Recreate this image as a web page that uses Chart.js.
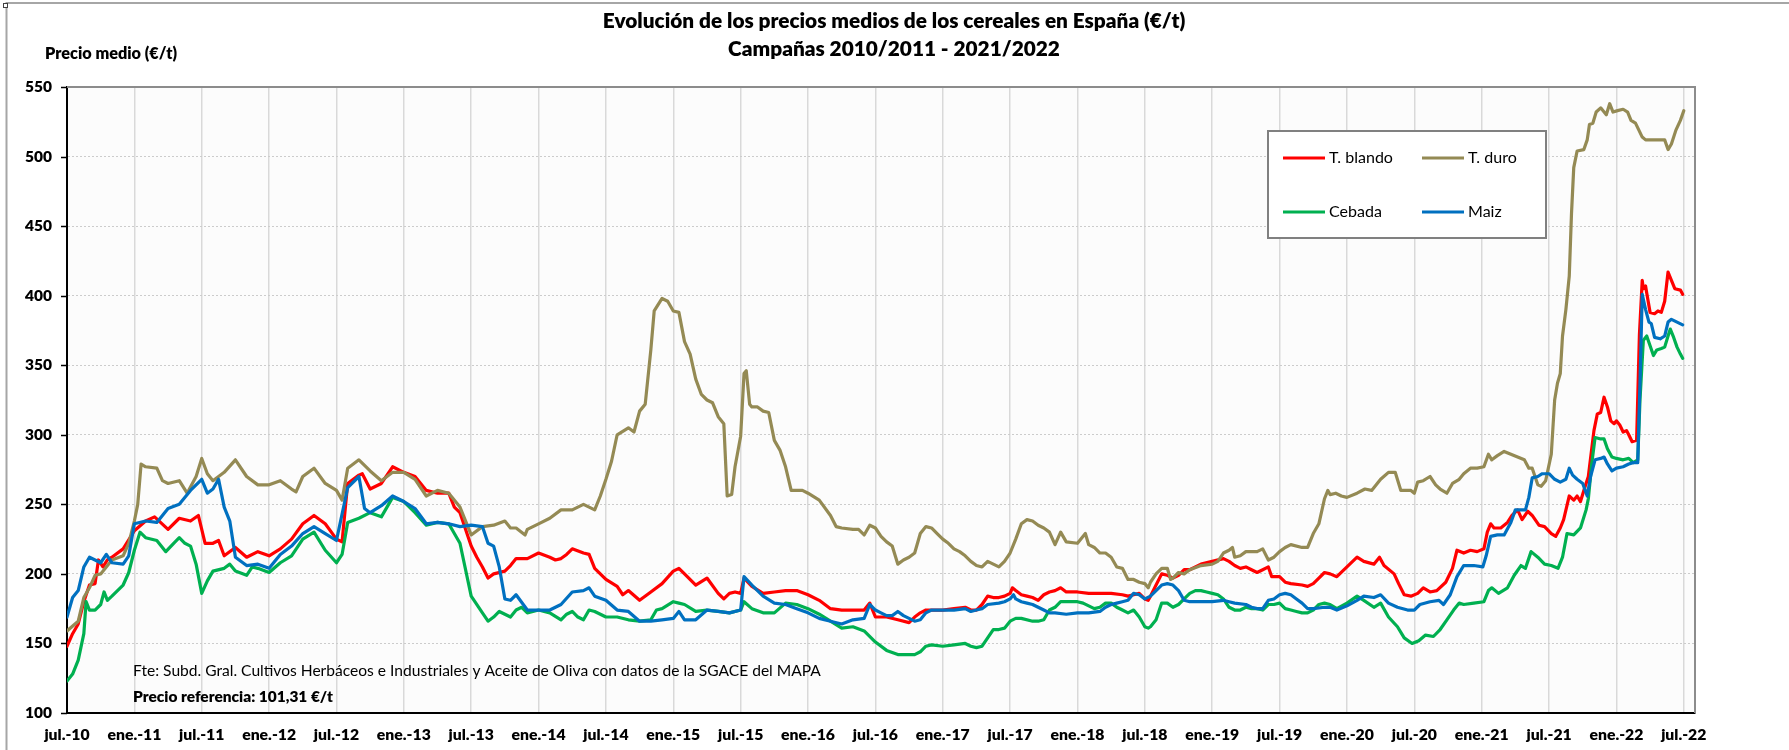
<!DOCTYPE html>
<html>
<head>
<meta charset="utf-8">
<script src="https://cdn.jsdelivr.net/npm/chart.js@4.4.0/dist/chart.umd.min.js"></script>
<style>
html,body{margin:0;padding:0;background:#fff;}
#wrap{position:relative;width:1789px;height:750px;}
canvas{display:block;}
</style>
</head>
<body>
<div id="wrap"><canvas id="c" width="1789" height="750"></canvas></div>
<script>
// ---------- text ----------
const titleLines = ['Evolución de los precios medios de los cereales en España (€/t)', 'Campañas 2010/2011 - 2021/2022'];
const yAxisTitle = 'Precio medio (€/t)';
const sourceNote = 'Fte: Subd. Gral. Cultivos Herbáceos e Industriales y Aceite de Oliva con datos de la SGACE del MAPA';
const refNote = 'Precio referencia: 101,31 €/t';
const seriesNames = ['T. blando', 'T. duro', 'Cebada', 'Maiz'];

// ---------- axis ticks (x = months since jul.-10) ----------
const tickLabels = ['jul.-10','ene.-11','jul.-11','ene.-12','jul.-12','ene.-13','jul.-13','ene.-14','jul.-14','ene.-15','jul.-15','ene.-16','jul.-16','ene.-17','jul.-17','ene.-18','jul.-18','ene.-19','jul.-19','ene.-20','jul.-20','ene.-21','jul.-21','ene.-22','jul.-22'];
const tickMonths = [0,6,12,18,24,30,36,42,48,54,60,66,72,78,84,90,96,102,108,114,120,126,132,138,144];
const yTicks = [100,150,200,250,300,350,400,450,500,550];

// ---------- series (month offset from jul.-10, price €/t) ----------
const blandoMonths = [0,0.5,1,1.5,2,2.5,2.8,3.2,3.6,4,5,6,7,7.8,9,10,11,11.7,12.3,13,13.5,14,15,16,17,18,19,20,21,22,23,24,24.5,25,26,26.3,27,28,29,30,31,32,33,34,34.5,35,36,36.5,37,37.5,38,39,39.5,40,41,42,43,43.5,44,44.5,45,46,46.5,47,48,49,49.5,50,51,52,53,54,54.5,55,56,57,58,58.5,59,59.5,60,60.3,61,62,63,64,65,66,67,68,69,70,71,71.5,72,73,74,75,75.5,76,76.5,77,78,79,80,80.5,81,81.5,82,82.5,83,83.5,84,84.2,84.5,85,85.5,86,86.5,87,87.5,88,88.5,89,90,91,92,93,94,94.5,95,95.5,96,96.3,96.5,97,97.5,98,98.5,99,99.5,100,100.5,101,102,103,103.5,104,104.5,105,105.5,106,106.5,107,107.3,108,108.5,109,110,110.5,111,111.5,112,112.5,113.1,114,114.9,115.5,116.4,116.9,117.3,118.2,118.6,119.1,119.7,120.3,120.8,121.4,122,122.8,123.4,123.8,124.4,125,125.6,126.2,126.5,126.8,127.1,127.7,128.3,128.7,129.2,129.6,130.1,130.5,131.1,131.6,132.2,132.6,133,133.3,133.8,134.2,134.5,134.8,135.1,135.5,136,136.3,136.6,136.9,137.2,137.5,137.8,138,138.3,138.6,138.9,139.1,139.4,139.8,140.05,140.3,140.4,140.6,140.7,141,141.4,141.7,142,142.3,142.6,142.9,143.2,143.7,143.9];
const blandoPrices = [148,157,164,180,192,193,210,205,210,212,218,231,238,241,232,240,238,242,222,222,224,213,219,212,216,213,218,225,236,242,236,225,223,265,271,272,261,265,277,273,270,260,258,258,248,244,220,212,205,197,200,202,206,211,211,215,212,210,211,214,218,215,214,204,196,191,185,188,181,187,193,202,204,200,192,197,186,182,186,187,186,197,191,186,187,188,188,185,181,175,174,174,174,179,169,169,167,165,169,172,174,174,174,175,176,174,174,178,184,183,183,184,186,190,188,185,184,183,181,185,187,188,190,187,187,186,186,186,185,184,185,186,182,181,184,192,200,199,197,199,203,203,205,207,209,211,209,206,204,205,203,201,203,205,198,198,194,193,192,191,193,197,201,200,198,205,212,209,207,212,206,200,193,185,184,186,190,187,188,194,204,217,215,217,216,218,230,236,233,233,237,242,246,239,245,242,235,234,229,227,233,239,256,253,256,252,260,270,303,315,316,327,320,310,308,310,307,302,303,300,295,296,372,411,405,407,402,388,387,389,388,396,417,411,405,404,401];

const duroMonths = [0,1,1.5,2,2.5,3,4,5,5.5,6,6.3,6.6,7,8,8.5,9,10,10.7,11.5,12,12.5,13,14,15,16,17,18,19,20,20.4,21,22,23,24,24.5,25,26,27,28,29,30,31,32,33,34,35,36,37,38,39,39.5,40,40.8,41,42,43,44,45,46,47,47.5,48,48.5,49,50,50.5,51,51.5,52,52.3,53,53.5,54,54.5,55,55.5,56,56.5,57,57.5,58,58.5,58.8,59.2,59.5,60,60.3,60.5,60.8,61,61.5,62,62.5,63,63.5,64,64.5,65,65.5,66,67,68,68.5,69,70,70.5,71,71.5,72,72.5,73,73.5,74,74.5,75,75.5,76,76.5,77,77.5,78,78.5,79,79.5,80,80.5,81,81.5,82,82.5,83,83.5,84,84.5,85,85.5,86,86.5,87,87.5,88,88.5,89,90,90.7,91,91.5,92,92.5,93,93.5,94,94.5,95,95.5,96,96.3,96.5,97,97.5,98,98.3,98.5,99,99.5,100,101,102,102.5,103,103.5,103.8,104,104.5,105,106,106.5,107,107.5,108,108.5,109,110,110.5,111,111.5,112,112.3,112.5,113,113.5,114,114.9,115.6,116.2,117,117.7,118.3,118.8,119.7,120,120.3,120.8,121.4,121.9,122.3,122.9,123.4,124,124.4,125,125.6,126.2,126.6,126.9,127.4,128,128.6,129.2,129.8,130.2,130.5,131,131.3,131.7,132.2,132.5,132.75,133,133.2,133.5,133.8,134,134.2,134.5,135.1,135.4,135.6,135.9,136.2,136.6,137.1,137.4,137.7,138.1,138.6,139,139.3,139.7,140,140.3,140.6,141.1,141.7,142.3,142.6,142.9,143.3,143.7,144];
const duroPrices = [159,166,183,190,199,200,210,213,222,238,250,279,277,276,267,265,267,258,270,283,272,267,273,282,270,264,264,267,261,259,270,276,265,260,253,276,282,274,267,273,273,268,256,260,258,248,228,234,235,238,233,233,228,232,236,240,246,246,250,246,256,268,281,300,305,302,317,322,361,389,398,396,389,388,367,358,340,329,325,323,313,308,256,257,277,299,344,346,322,320,320,317,316,296,289,277,260,260,260,258,253,242,234,233,232,232,228,235,233,227,223,220,207,210,212,215,229,234,233,229,225,222,218,216,213,209,206,205,209,207,205,209,215,225,236,239,238,235,233,230,221,230,223,222,229,221,219,215,215,212,205,204,196,196,194,193,190,194,200,204,204,196,197,201,200,203,206,207,209,215,217,219,212,213,216,216,218,210,212,216,219,221,219,219,229,236,254,260,257,258,256,255,258,261,260,268,273,273,260,260,258,266,267,270,264,261,258,265,268,272,276,276,277,286,282,285,288,286,284,282,276,276,264,263,267,286,325,337,344,371,390,414,459,492,504,505,512,523,524,532,535,530,538,532,533,534,532,526,524,519,514,512,512,512,512,505,509,519,526,533];

const cebadaMonths = [0,0.5,1,1.5,1.7,2,2.5,3,3.3,3.6,4,5,5.5,6,6.5,7,8,8.8,9.5,10,10.5,11,11.5,12,12.5,13,14,14.5,15,16,16.5,17,18,19,20,21,22,23,24,24.5,25,26,27,28,29,30,31,32,33,34,35,36,37,37.5,38,38.5,39,39.5,40,40.5,41,42,43,44,44.5,45,45.5,46,46.5,47,48,49,50,51,52,52.5,53,54,54.5,55,56,57,58,59,60,60.3,61,62,63,64,65,66,67,68,69,70,71,72,73,74,75,75.5,76,76.5,77,78,79,80,80.5,81,81.5,82,82.5,83,83.5,84,84.5,85,86,86.5,87,87.5,88,88.5,89,90,90.5,91,91.5,92,92.5,93,93.5,94,94.5,95,95.5,96,96.3,96.5,97,97.5,98,98.5,99,99.5,100,100.5,101,101.5,102,102.5,103,103.5,104,104.5,105,105.5,106,106.5,107,107.5,108,108.5,109,109.5,110,110.5,111,111.5,112,112.5,113.1,114,114.9,115.5,116.4,117,117.7,118.5,119.1,119.8,120.4,121,121.7,122.3,122.9,123.5,124,124.4,125.3,126.2,126.6,126.9,127.5,128.3,128.9,129.5,129.9,130.4,131,131.6,132.2,132.8,133.2,133.6,134.2,134.8,135.3,135.5,135.8,136.1,136.6,136.9,137.2,137.6,138,138.6,139.1,139.5,139.9,140.1,140.4,140.7,141,141.3,141.6,142,142.3,142.6,142.8,143.1,143.4,143.7,143.9];
const cebadaPrices = [123,128,138,157,180,174,174,178,187,181,184,192,201,217,230,226,224,216,222,226,222,220,207,186,195,202,204,207,202,199,205,204,201,208,213,225,230,217,208,214,237,240,244,241,255,252,244,235,237,236,222,184,172,166,169,173,171,169,174,176,172,174,172,167,171,173,169,167,174,173,169,169,167,166,167,174,175,180,179,178,173,174,173,172,174,180,175,172,172,179,178,175,171,166,161,162,159,151,145,142,142,142,144,148,149,148,149,150,148,147,148,154,160,160,161,166,168,168,166,166,167,174,176,180,180,180,179,177,175,176,179,179,176,174,172,174,169,162,161,162,167,179,179,176,178,182,186,188,188,187,186,185,182,176,174,174,176,175,175,174,178,178,179,175,174,173,172,172,174,178,179,178,175,179,184,181,176,179,169,162,154,150,152,156,155,160,167,174,179,178,179,180,188,190,186,190,199,206,204,216,212,207,206,204,212,229,228,233,246,254,279,298,297,297,290,284,283,282,283,280,282,325,368,371,364,357,361,362,363,371,376,370,363,358,355];

const maizMonths = [0,0.5,1,1.5,2,3,3.5,4,5,5.5,6,7,8,9,10,11,12,12.5,13,13.5,14,14.5,15,16,17,18,19,20,21,22,23,24,25,26,26.5,27,28,29,30,31,32,33,34,35,36,37,37.5,38,38.5,39,39.5,40,41,42,43,44,45,46,46.5,47,48,49,50,51,52,53,54,54.5,55,56,57,58,59,60,60.3,61,62,63,64,65,66,67,68,69,70,71,71.5,72,72.5,73,73.5,74,74.5,75,75.5,76,76.5,77,78,79,80,80.5,81,81.5,82,83,83.5,84,84.3,84.5,85,85.5,86,86.5,87,87.5,88,89,90,91,92,92.5,93,93.5,94,94.5,95,95.5,96,96.5,97,97.5,98,98.5,99,99.5,100,101,102,103,103.5,104,105,105.5,106,106.5,107,107.5,108,108.5,109,109.5,110,110.5,111,112,112.5,113.1,114,114.9,115.5,116.4,117,117.7,118.5,119.4,120,120.5,121.4,122.2,122.6,123.2,123.8,124.4,125.3,126.1,126.4,126.8,127.4,128,128.6,129,129.6,129.9,130.2,130.5,131,131.4,132,132.5,133,133.5,133.8,134.1,134.5,135,135.4,135.7,136.1,136.6,136.9,137.2,137.6,138,138.6,139.1,139.5,139.9,140.1,140.3,140.6,140.9,141.1,141.4,141.9,142.3,142.6,142.9,143.4,143.9];
const maizPrices = [169,183,188,205,212,208,214,208,207,213,236,238,237,247,250,260,268,258,261,268,248,238,212,206,207,204,214,220,229,234,229,224,262,270,247,244,249,256,252,247,236,237,236,234,235,234,222,220,205,182,181,185,174,174,174,178,187,188,190,184,181,174,173,166,166,167,168,173,167,167,174,173,172,174,198,192,184,179,178,175,172,168,166,164,167,168,178,174,172,170,170,173,170,168,166,167,172,174,174,174,175,173,174,175,178,179,180,182,185,182,180,179,178,176,174,172,172,171,172,172,173,176,178,179,180,181,186,185,182,184,188,192,193,192,188,181,180,180,180,181,180,179,178,176,175,175,181,182,185,186,185,182,179,175,175,176,176,174,177,181,184,183,185,179,176,174,174,178,180,181,178,185,198,206,206,205,213,227,228,228,237,246,246,246,255,269,270,272,272,268,266,268,276,271,268,265,256,270,282,283,284,279,274,276,277,279,280,280,337,401,390,381,380,370,369,371,381,383,381,379];

const seriesColors = ['#FF0000', '#948A54', '#00B050', '#0070C0'];

// ---------- font sizing from measured text widths ----------
const FONT = 'Lato';
const BOLD = '800';
const mctx = document.createElement('canvas').getContext('2d');
function fitSize(text, weight, width) {
  mctx.font = weight + ' 100px ' + FONT;
  return 100 * width / mctx.measureText(text).width;
}
const titleSize = fitSize(titleLines[0], BOLD, 583);
const yTitleSize = fitSize(yAxisTitle, BOLD, 132);
const yTickSize = fitSize('550', BOLD, 27);
const xTickSize = fitSize('ene.-11', BOLD, 54);
const noteSize = fitSize(sourceNote, 'normal', 688);
const refSize = fitSize(refNote, BOLD, 200);
const legendSize = fitSize(seriesNames[0], 'normal', 64);

const toPoints = (xs, ys) => xs.map((m, i) => ({ x: m, y: ys[i] }));
const seriesData = [
  toPoints(blandoMonths, blandoPrices),
  toPoints(duroMonths, duroPrices),
  toPoints(cebadaMonths, cebadaPrices),
  toPoints(maizMonths, maizPrices)
];

const decor = {
  id: 'decor',
  beforeDraw(chart) {
    const { ctx, chartArea: a } = chart;
    ctx.save();
    ctx.fillStyle = '#fcfcfc';
    ctx.fillRect(a.left, a.top, a.right - a.left, a.bottom - a.top);
    ctx.restore();
  },
  afterDraw(chart) {
    const { ctx, chartArea: a } = chart;
    const ys = chart.scales.y;
    ctx.save();
    // outer frame (left + top)
    ctx.strokeStyle = '#a6a6a6';
    ctx.lineWidth = 2;
    ctx.beginPath();
    ctx.moveTo(6.5, 750); ctx.lineTo(6.5, 3); ctx.lineTo(1789, 3);
    ctx.stroke();
    ctx.fillStyle = '#fff';
    ctx.strokeStyle = '#404040';
    ctx.lineWidth = 1;
    ctx.fillRect(3, 3, 4, 4);
    ctx.strokeRect(3.5, 3.5, 4, 4);
    // plot frame top and right
    ctx.strokeStyle = '#8c8c8c';
    ctx.lineWidth = 2;
    ctx.beginPath();
    ctx.moveTo(a.left, a.top); ctx.lineTo(a.right, a.top); ctx.lineTo(a.right, a.bottom);
    ctx.stroke();
    // y tick marks
    ctx.strokeStyle = '#000';
    ctx.lineWidth = 1.5;
    ctx.beginPath();
    yTicks.forEach(v => {
      const y = Math.round(ys.getPixelForValue(v)) + 0.5;
      ctx.moveTo(a.left - 6, y); ctx.lineTo(a.left, y);
    });
    ctx.stroke();
    // titles
    ctx.fillStyle = '#000';
    ctx.textBaseline = 'middle';
    ctx.textAlign = 'center';
    ctx.font = BOLD + ' ' + titleSize + 'px ' + FONT;
    ctx.fillText(titleLines[0], 894, 21);
    ctx.fillText(titleLines[1], 894, 49);
    ctx.textAlign = 'left';
    ctx.font = BOLD + ' ' + yTitleSize + 'px ' + FONT;
    ctx.fillText(yAxisTitle, 45, 54);
    // notes
    ctx.font = noteSize + 'px ' + FONT;
    ctx.fillText(sourceNote, 133, 671);
    ctx.font = BOLD + ' ' + refSize + 'px ' + FONT;
    ctx.fillText(refNote, 133, 697);
    // legend
    const L = { x: 1268, y: 131, w: 278, h: 107 };
    ctx.fillStyle = '#fff';
    ctx.fillRect(L.x, L.y, L.w, L.h);
    ctx.strokeStyle = '#808080';
    ctx.lineWidth = 2;
    ctx.strokeRect(L.x, L.y, L.w, L.h);
    const cols = [1283, 1422];
    const rows = [158, 212];
    ctx.font = legendSize + 'px ' + FONT;
    chart.data.datasets.forEach((ds, i) => {
      const cx = cols[i % 2], cy = rows[Math.floor(i / 2)];
      ctx.strokeStyle = ds.borderColor;
      ctx.lineWidth = 3;
      ctx.beginPath(); ctx.moveTo(cx, cy); ctx.lineTo(cx + 42, cy); ctx.stroke();
      ctx.fillStyle = '#000';
      ctx.fillText(ds.label, cx + 46, cy);
    });
    ctx.restore();
  }
};

new Chart(document.getElementById('c'), {
  type: 'line',
  data: {
    datasets: seriesNames.map((name, i) => ({
      label: name,
      data: seriesData[i],
      borderColor: seriesColors[i],
      backgroundColor: seriesColors[i],
      borderWidth: 3.2,
      pointRadius: 0,
      tension: 0,
      fill: false,
      order: 3 - i
    }))
  },
  options: {
    responsive: false,
    animation: false,
    devicePixelRatio: 1,
    layout: { padding: { left: 0, top: 87, right: 94, bottom: 0 } },
    plugins: { legend: { display: false }, tooltip: { enabled: false }, title: { display: false } },
    elements: { line: { borderJoinStyle: 'round', borderCapStyle: 'round' } },
    scales: {
      x: {
        type: 'linear',
        min: 0,
        max: 145,
        afterFit(s) { s.height = 37; },
        afterBuildTicks(s) { s.ticks = tickMonths.map(v => ({ value: v })); },
        ticks: {
          autoSkip: false,
          maxRotation: 0,
          minRotation: 0,
          padding: 12,
          color: '#000',
          font: { family: FONT, weight: BOLD, size: xTickSize },
          callback: (v) => { const i = tickMonths.indexOf(v); return i >= 0 ? tickLabels[i] : ''; }
        },
        grid: { color: '#d9d9d9', lineWidth: 1.5, drawTicks: false },
        border: { color: '#000', width: 2 }
      },
      y: {
        min: 100,
        max: 550,
        afterFit(s) { s.width = 67; },
        afterBuildTicks(s) { s.ticks = yTicks.map(v => ({ value: v })); },
        ticks: {
          padding: 15,
          color: '#000',
          font: { family: FONT, weight: BOLD, size: yTickSize }
        },
        grid: { color: '#cccccc', lineWidth: 1, drawTicks: false },
        border: { color: '#000', width: 2, dash: [2, 2] }
      }
    }
  },
  plugins: [decor]
});
</script>
</body>
</html>
